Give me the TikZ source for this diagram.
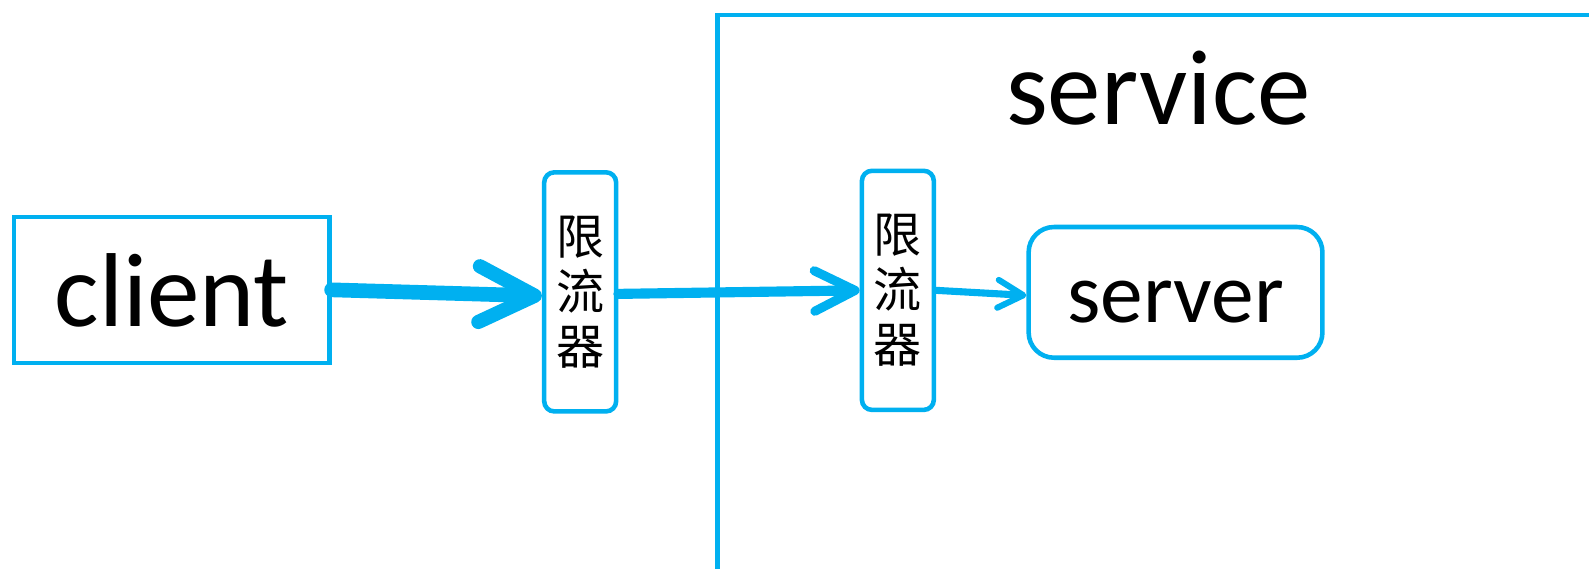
\documentclass[tikz,border=0pt]{standalone}
\usepackage{fontspec}
\setmainfont{Carlito}
\newfontfamily\cjk{Noto Sans CJK SC}
\usetikzlibrary{arrows.meta}
\definecolor{sky}{HTML}{00B0F0}
\tikzset{
  box/.style={draw=sky, line width=0.09cm, inner sep=0pt},
  limbox/.style={box, rounded corners=0.2cm, minimum width=1.42cm, minimum height=4.72cm,
     align=center, font=\cjk\fontsize{27}{31}\selectfont},
  flow/.style={draw=sky, line cap=round},
}
\begin{document}
\begin{tikzpicture}[x=0.02cm,y=-0.02cm]
\useasboundingbox (0,0) rectangle (1568,560.5);
\clip (0,0) rectangle (1568,560.5);
\fill[white] (0,0) rectangle (1568,560.5);
% service container
\node[box, anchor=north west, minimum width=18.5cm, minimum height=12cm] (servicebox) at (705.5,12.5) {};
\node[anchor=base, font=\fontsize{60}{70}\selectfont] (service) at (1143,123) {service};
% nodes
\node[box, minimum width=6.22cm, minimum height=2.88cm, text height=1.44cm, text depth=0cm,
      font=\fontsize{59}{70}\selectfont] (client) at (169.5,286) {client};
\node[limbox] (lim1) at (572.5,288) {限\\流\\器};
\node[limbox] (lim2) at (886,286.5) {限\\流\\器};
\node[box, rounded corners=0.5cm, minimum width=5.8cm, minimum height=2.58cm, text height=1.18cm, text depth=0cm,
      font=\fontsize{48}{60}\selectfont] (server) at (1160,288.5) {server};
% connectors
\draw[flow, line width=0.29cm, -{Straight Barb[length=1.1cm, width=1.1cm, line width=0.28cm, round]}]
  (client.east) -- ([yshift=-0.08cm]lim1.west);
\draw[flow, line width=0.2cm, -{Straight Barb[length=0.8cm, width=0.8cm, line width=0.18cm, round]}]
  ([yshift=-0.04cm]lim1.east) -- (lim2.west);
\draw[flow, line width=0.14cm, -{Straight Barb[length=0.5cm, width=0.55cm, line width=0.12cm, round]}]
  (lim2.east) -- ([yshift=-0.06cm]server.west);
\end{tikzpicture}
\end{document}
